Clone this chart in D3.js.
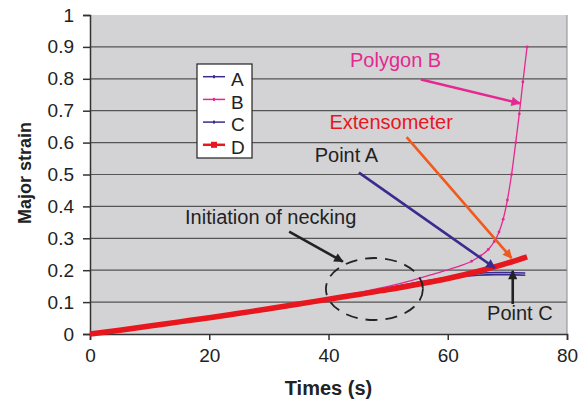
<!DOCTYPE html>
<html>
<head>
<meta charset="utf-8">
<script src="https://cdn.jsdelivr.net/npm/d3@7"></script>
<style>
  body { margin: 0; background: #fff; }
  svg { font-family: "Liberation Sans", Arial, sans-serif; }
</style>
</head>
<body>
<div id="chart"></div>
<script>
// time (s) and major strain for each measured series
const timeD = [0, 5, 10, 15, 20, 25, 30, 35, 40, 45, 50, 55, 60, 65, 70, 73.3];
const strainD = [0, 0.012, 0.025, 0.038, 0.051, 0.065, 0.079, 0.094, 0.109, 0.124, 0.139, 0.156, 0.174, 0.196, 0.222, 0.242];

const timeA = [0, 5, 10, 15, 20, 25, 30, 35, 40, 45, 50, 55, 60, 63, 65, 68, 70, 73];
const strainA = [0, 0.013, 0.027, 0.040, 0.054, 0.068, 0.082, 0.097, 0.112, 0.128, 0.145, 0.162, 0.178, 0.186, 0.19, 0.193, 0.193, 0.191];

const timeB = [0, 5, 10, 15, 20, 25, 30, 35, 40, 45, 50, 54, 58, 61, 64, 65.5, 66.8, 67.8, 68.6, 69.3, 70, 70.7, 71.4, 72, 72.6, 73.3];
const strainB = [0, 0.013, 0.027, 0.040, 0.054, 0.068, 0.082, 0.097, 0.113, 0.130, 0.149, 0.168, 0.19, 0.207, 0.228, 0.245, 0.265, 0.29, 0.32, 0.36, 0.42, 0.5, 0.6, 0.69, 0.79, 0.9];

const timeC = [0, 5, 10, 15, 20, 25, 30, 35, 40, 45, 50, 55, 60, 63, 65, 68, 70, 73];
const strainC = [0, 0.012, 0.026, 0.039, 0.053, 0.067, 0.081, 0.096, 0.111, 0.127, 0.143, 0.159, 0.174, 0.181, 0.184, 0.186, 0.186, 0.184];

const seriesNames = ["A", "B", "C", "D"];
const xTicks = [0, 20, 40, 60, 80];
const yTicks = [0, 0.1, 0.2, 0.3, 0.4, 0.5, 0.6, 0.7, 0.8, 0.9, 1];

const colors = { A: "#3a2b8f", B: "#e5288f", C: "#3a2b8f", D: "#e8161d" };

const W = 581, H = 403;
const margin = { top: 15, right: 14, bottom: 69, left: 90 };
const width = W - margin.left - margin.right;
const height = H - margin.top - margin.bottom;

const svg = d3.select("#chart").append("svg")
  .attr("width", W).attr("height", H)
  .append("g")
  .attr("transform", `translate(${margin.left},${margin.top})`);

const x = d3.scaleLinear().domain([0, 80]).range([0, width]);
const y = d3.scaleLinear().domain([0, 1]).range([height, 0]);

svg.append("rect")
  .attr("width", width).attr("height", height)
  .attr("fill", "#d3d3d5");

svg.selectAll(".grid")
  .data(yTicks.filter(d => d > 0 && d < 1))
  .enter().append("line")
  .attr("x1", 0).attr("x2", width)
  .attr("y1", d => y(d)).attr("y2", d => y(d))
  .attr("stroke", "#555").attr("stroke-width", 1.2);

svg.append("line")
  .attr("x1", width).attr("x2", width).attr("y1", 0).attr("y2", height)
  .attr("stroke", "#8a8a8a");

const xAxis = svg.append("g")
  .attr("transform", `translate(0,${height})`)
  .call(d3.axisBottom(x).tickValues(xTicks).tickSize(6).tickPadding(9));
const yAxis = svg.append("g")
  .call(d3.axisLeft(y).tickValues(yTicks).tickSize(7).tickPadding(9).tickFormat(d3.format("")));

[xAxis, yAxis].forEach(g => {
  g.selectAll("path").attr("stroke", "#333").attr("stroke-width", 1.5);
  g.selectAll("line").attr("stroke", "#333").attr("stroke-width", 1.5);
  g.selectAll("text").attr("font-size", 19).attr("fill", "#222")
    .attr("font-family", "Liberation Sans, Arial, sans-serif");
});

svg.append("text")
  .attr("x", x(40)).attr("y", height + 61)
  .attr("text-anchor", "middle")
  .attr("font-size", 20).attr("font-weight", "bold").attr("fill", "#222")
  .text("Times (s)");

svg.append("text")
  .attr("transform", `translate(${-59},${height / 2 - 1.5}) rotate(-90)`)
  .attr("text-anchor", "middle")
  .attr("font-size", 18).attr("font-weight", "bold").attr("fill", "#222")
  .text("Major strain");

const line = d3.line().x(d => x(d[0])).y(d => y(d[1])).curve(d3.curveMonotoneX);
const zip = (t, v) => t.map((d, i) => [d, v[i]]);

const data = {
  A: zip(timeA, strainA),
  B: zip(timeB, strainB),
  C: zip(timeC, strainC),
  D: zip(timeD, strainD)
};
const widths = { A: 1.6, B: 1.3, C: 1.6, D: 5.5 };

["C", "A", "B", "D"].forEach(k => {
  svg.append("path")
    .datum(data[k])
    .attr("fill", "none")
    .attr("stroke", colors[k])
    .attr("stroke-width", widths[k])
    .attr("d", line);
});

// small markers along polygon B
svg.selectAll(".mb")
  .data(data.B.filter(d => d[0] > 61))
  .enter().append("circle")
  .attr("cx", d => x(d[0])).attr("cy", d => y(d[1]))
  .attr("r", 1.4).attr("fill", colors.B);

// annotations
const defs = svg.append("defs");
function marker(id, color) {
  defs.append("marker")
    .attr("id", id).attr("viewBox", "0 0 10 10")
    .attr("refX", 9).attr("refY", 5)
    .attr("markerWidth", 4.2).attr("markerHeight", 3.6)
    .attr("markerUnits", "strokeWidth")
    .attr("orient", "auto")
    .append("path").attr("d", "M0,0 L10,5 L0,10 Z").attr("fill", color);
}
marker("arB", "#e5288f");
marker("arE", "#f05a1e");
marker("arA", "#3a2b8f");
marker("arK", "#222");

const arrows = [
  { from: [55.5, 0.798], to: [72.1, 0.723], c: "#e5288f", m: "arB" },
  { from: [53.1, 0.617], to: [70.7, 0.238], c: "#f05a1e", m: "arE" },
  { from: [45.1, 0.506], to: [67.9, 0.207], c: "#3a2b8f", m: "arA" },
  { from: [33.4, 0.321], to: [42.4, 0.227], c: "#222", m: "arK" },
  { from: [70.9, 0.094], to: [70.9, 0.198], c: "#222", m: "arK" }
];
arrows.forEach(a => {
  svg.append("line")
    .attr("x1", x(a.from[0])).attr("y1", y(a.from[1]))
    .attr("x2", x(a.to[0])).attr("y2", y(a.to[1]))
    .attr("stroke", a.c).attr("stroke-width", 2.6)
    .attr("marker-end", `url(#${a.m})`);
});

svg.append("ellipse")
  .attr("cx", x(47.7)).attr("cy", y(0.141))
  .attr("rx", 48.5).attr("ry", 31)
  .attr("fill", "none").attr("stroke", "#222")
  .attr("stroke-width", 1.8).attr("stroke-dasharray", "12,8");

const labels = [
  { t: "Polygon B", p: [51.25, 0.838], c: "#e5288f" },
  { t: "Extensometer", p: [50.5, 0.643], c: "#e8161d" },
  { t: "Point A", p: [43, 0.538], c: "#222" },
  { t: "Initiation of necking", p: [30.3, 0.344], c: "#222" },
  { t: "Point C", p: [72.1, 0.044], c: "#222" }
];
labels.forEach(l => {
  svg.append("text")
    .attr("x", x(l.p[0])).attr("y", y(l.p[1]))
    .attr("text-anchor", "middle")
    .attr("font-size", 20).attr("fill", l.c)
    .text(l.t);
});

// legend
const lg = svg.append("g").attr("transform", `translate(${197 - margin.left},${64 - margin.top})`);
lg.append("rect").attr("width", 55).attr("height", 94)
  .attr("fill", "#fff").attr("stroke", "#222").attr("stroke-width", 1.2);
seriesNames.forEach((k, i) => {
  const yy = 12.7 + i * 22.7;
  lg.append("line").attr("x1", 6).attr("x2", 28).attr("y1", yy).attr("y2", yy)
    .attr("stroke", colors[k]).attr("stroke-width", k === "D" ? 2.5 : 1.5);
  if (k === "D") {
    lg.append("rect").attr("x", 14).attr("y", yy - 3).attr("width", 6).attr("height", 6).attr("fill", colors[k]);
  } else {
    lg.append("rect").attr("x", 16).attr("y", yy - 1.5).attr("width", 2).attr("height", 3).attr("fill", colors[k]);
  }
  lg.append("text").attr("x", 34).attr("y", yy + 9.3)
    .attr("font-size", 19).attr("fill", "#222").text(k);
});
</script>
</body>
</html>
